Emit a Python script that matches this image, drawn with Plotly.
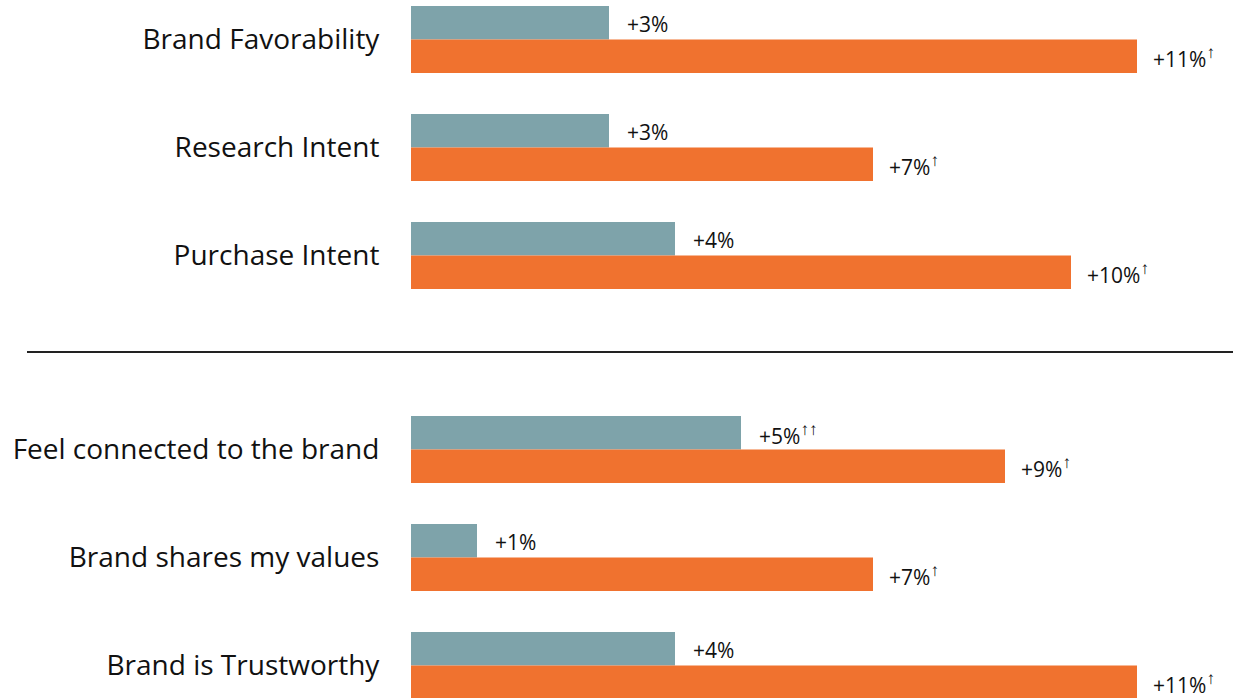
import plotly.graph_objects as go
from plotly.subplots import make_subplots

top_categories = ["Brand Favorability", "Research Intent", "Purchase Intent"]
top_gray = [3, 3, 4]
top_orange = [11, 7, 10]
top_gray_marks = ["", "", ""]
top_orange_marks = ["↑", "↑", "↑"]

bottom_categories = ["Feel connected to the brand", "Brand shares my values", "Brand is Trustworthy"]
bottom_gray = [5, 1, 4]
bottom_orange = [9, 7, 11]
bottom_gray_marks = ["↑↑", "", ""]
bottom_orange_marks = ["↑", "↑", "↑"]

GRAY = "#7ea3aa"
ORANGE = "#f0722f"
W, H = 1245, 698
FONT = "Open Sans"


def label(v, m):
    txt = f"+{v}%"
    if m:
        txt += f"<sup><span style='font-size:17px'>{m}</span></sup>"
    return txt


fig = make_subplots(rows=2, cols=1)

panels = [
    (1, top_categories, top_gray, top_orange, top_gray_marks, top_orange_marks),
    (2, bottom_categories, bottom_gray, bottom_orange, bottom_gray_marks, bottom_orange_marks),
]

annotations = []
for row, cats, g, o, gm, om in panels:
    fig.add_trace(go.Bar(y=cats, x=g, orientation="h", marker=dict(color=GRAY, line=dict(width=0)),
                         hoverinfo="skip", showlegend=False), row=row, col=1)
    fig.add_trace(go.Bar(y=cats, x=o, orientation="h", marker=dict(color=ORANGE, line=dict(width=0)),
                         hoverinfo="skip", showlegend=False), row=row, col=1)
    xref = "x" if row == 1 else "x2"
    yref = "y" if row == 1 else "y2"
    for c, v, m in zip(cats, g, gm):
        annotations.append(dict(x=v, y=c, xref=xref, yref=yref, text=label(v, m), showarrow=False,
                                xanchor="left", yanchor="middle", xshift=16, yshift=16,
                                font=dict(family=FONT, size=21, color="#111111")))
    for c, v, m in zip(cats, o, om):
        annotations.append(dict(x=v, y=c, xref=xref, yref=yref, text=label(v, m), showarrow=False,
                                xanchor="left", yanchor="middle", xshift=14, yshift=-17,
                                font=dict(family=FONT, size=21, color="#111111")))

x0_px = 411
px_per_unit = 66
xrange = [0, (W - x0_px) / px_per_unit]
xdomain = [x0_px / W, 1]

# y geometry: 108 px per category
pitch = 108
top_dom_px = (0, 324)
top_center0 = 39.5
bot_dom_px = (380, 698)
bot_center0 = 449.5


def yrange(dom, c0):
    t = -(c0 - dom[0]) / pitch
    b = t + (dom[1] - dom[0]) / pitch
    return [b, t]


axis_common = dict(showgrid=False, zeroline=False, showline=False, showticklabels=True,
                   automargin=False,
                   ticks="outside", ticklen=25, tickcolor="rgba(0,0,0,0)",
                   tickfont=dict(family=FONT, size=28, color="#111111"), fixedrange=True)

fig.update_layout(
    width=W, height=H,
    margin=dict(l=0, r=0, t=0, b=0, pad=0),
    paper_bgcolor="white", plot_bgcolor="white",
    barmode="group", bargap=0.38, bargroupgap=0,
    annotations=annotations,
    xaxis=dict(domain=xdomain, range=xrange, visible=False, automargin=False),
    xaxis2=dict(domain=xdomain, range=xrange, visible=False, automargin=False),
    yaxis=dict(domain=[1 - top_dom_px[1] / H, 1 - top_dom_px[0] / H],
               range=yrange(top_dom_px, top_center0), **axis_common),
    yaxis2=dict(domain=[1 - bot_dom_px[1] / H, 1 - bot_dom_px[0] / H],
                range=yrange(bot_dom_px, bot_center0), **axis_common),
    shapes=[dict(type="line", xref="paper", yref="paper",
                 x0=27 / W, x1=1233 / W,
                 y0=1 - 352 / H, y1=1 - 352 / H, line=dict(color="#222222", width=2))],
)

fig.write_html("out.html", config={"displayModeBar": False},
               post_script="document.body.style.margin='0';document.body.style.overflow='hidden';")
